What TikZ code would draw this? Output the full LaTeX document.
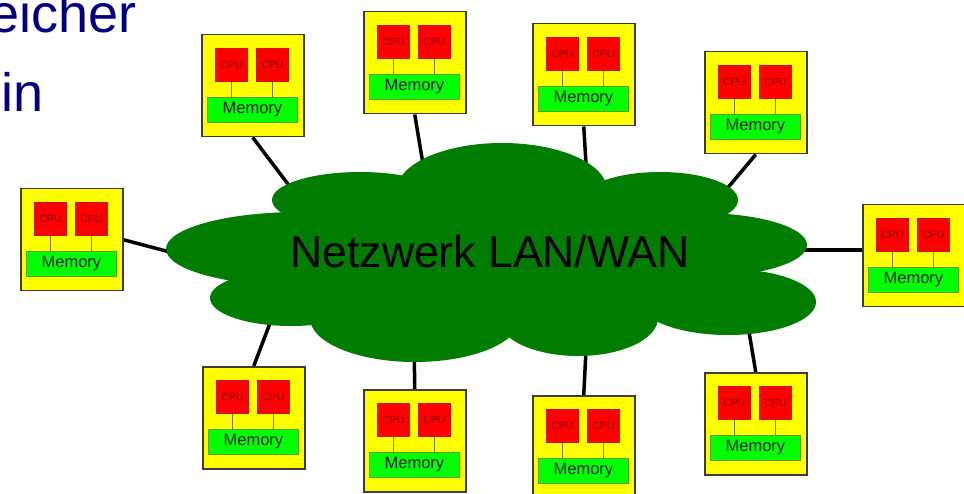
\documentclass[tikz,border=0pt]{standalone}
\usepackage{fontspec}
\setmainfont{Liberation Sans}
\usetikzlibrary{calc}
\pgfdeclarelayer{background}
\pgfsetlayers{background,main}
\definecolor{cloudgreen}{RGB}{0,125,0}
\definecolor{boxyellow}{RGB}{255,255,0}
\definecolor{boxborder}{RGB}{60,60,60}
\definecolor{cpured}{RGB}{255,0,0}
\definecolor{cpuborder}{RGB}{205,20,0}
\definecolor{cputext}{RGB}{140,0,0}
\definecolor{memgreen}{RGB}{0,255,0}
\definecolor{memborder}{RGB}{90,160,0}
\definecolor{busolive}{RGB}{120,120,0}
\definecolor{navytext}{RGB}{0,0,128}
\tikzset{
  compbox/.style={draw=boxborder, fill=boxyellow, line width=1.5pt, minimum width=102pt, minimum height=102pt, inner sep=0pt, anchor=north west},
  cpubox/.style={draw=cpuborder, fill=cpured, line width=0.8pt, minimum width=32pt, minimum height=33pt, inner sep=0pt, anchor=north west, text=cputext, font=\fontsize{10.5}{12}\selectfont},
  membox/.style={draw=memborder, fill=memgreen, line width=0.8pt, minimum width=90pt, minimum height=25pt, inner sep=0pt, anchor=north west, text=black!85, font=\fontsize{16.5}{18}\selectfont},
  bus/.style={draw=busolive, line width=1.8pt},
  netlink/.style={draw=black, line width=3.5pt},
  cloudpart/.style={fill=cloudgreen},
  slidetext/.style={text=navytext, font=\fontsize{54}{60}\selectfont, inner sep=0pt, anchor=base west},
  cloudlabel/.style={text=black, font=\fontsize{44.5}{50}\selectfont, inner sep=0pt, anchor=base},
}
\newcommand\computer[3]{%
  \node[compbox] (#1) at (#2,#3) {};
  \node[cpubox] (#1c1) at (#2+14,#3+14) {CPU};
  \node[cpubox] (#1c2) at (#2+55,#3+14) {CPU};
  \node[membox] (#1m) at (#2+6,#3+63) {Memory};
  \draw[bus] (#1c1.south) -- (#1c1.south |- #1m.north);
  \draw[bus] (#1c2.south) -- (#1c2.south |- #1m.north);
}
\begin{document}
\begin{tikzpicture}[x=1pt,y=-1pt]
\useasboundingbox (0,0) rectangle (964,494);
% slide text fragments
\node[slidetext] (t1) at (-10.6,33) {eicher};
\node[slidetext] (t2) at (1.4,112) {in};
% computers
\computer{I}{201}{34}
\computer{A}{363}{11}
\computer{B}{532}{23}
\computer{C}{704}{51}
\computer{D}{862}{204}
\computer{J}{20}{188}
\computer{E}{202}{366}
\computer{F}{363}{389}
\computer{G}{532}{395}
\computer{H}{704}{372}
% inner ends of the links
\coordinate (cI) at (300,200);
\coordinate (cA) at (424,170);
\coordinate (cB) at (587,180);
\coordinate (cC) at (715,203);
\coordinate (cD) at (780,250);
\coordinate (cJ) at (200,260);
\coordinate (cE) at (275,310);
\coordinate (cF) at (414,340);
\coordinate (cG) at (587,330);
\coordinate (cH) at (747,320);
\begin{pgfonlayer}{background}
  \fill[white] (0,0) rectangle (964,494);
  \draw[netlink] (I.south) -- (cI);
  \draw[netlink] (A.south) -- (cA);
  \draw[netlink] (B.south) -- (cB);
  \draw[netlink] (C.south) -- (cC);
  \draw[netlink] (cD -| D.west) -- (cD);
  \draw[netlink] (J.east) -- (cJ);
  \draw[netlink] (E.north) -- (cE);
  \draw[netlink] (F.north) -- (cF);
  \draw[netlink] (G.north) -- (cG);
  \draw[netlink] (H.north) -- (cH);
  % cloud
  \fill[cloudpart] (490,258) ellipse [x radius=220, y radius=75];
  \fill[cloudpart] (300,249) ellipse [x radius=134, y radius=37];
  \fill[cloudpart] (360,200) ellipse [x radius=88, y radius=28];
  \fill[cloudpart] (502,190) ellipse [x radius=105, y radius=47];
  \fill[cloudpart] (660,200) ellipse [x radius=78, y radius=28];
  \fill[cloudpart] (700,245) ellipse [x radius=107, y radius=32];
  \fill[cloudpart] (728,302) ellipse [x radius=88, y radius=33];
  \fill[cloudpart] (578,318) ellipse [x radius=80, y radius=38];
  \fill[cloudpart] (415,318) ellipse [x radius=105, y radius=44];
  \fill[cloudpart] (291,298) ellipse [x radius=81, y radius=28];
\end{pgfonlayer}
\node[cloudlabel] (net) at (490,268) {Netzwerk LAN/WAN};
\end{tikzpicture}
\end{document}
